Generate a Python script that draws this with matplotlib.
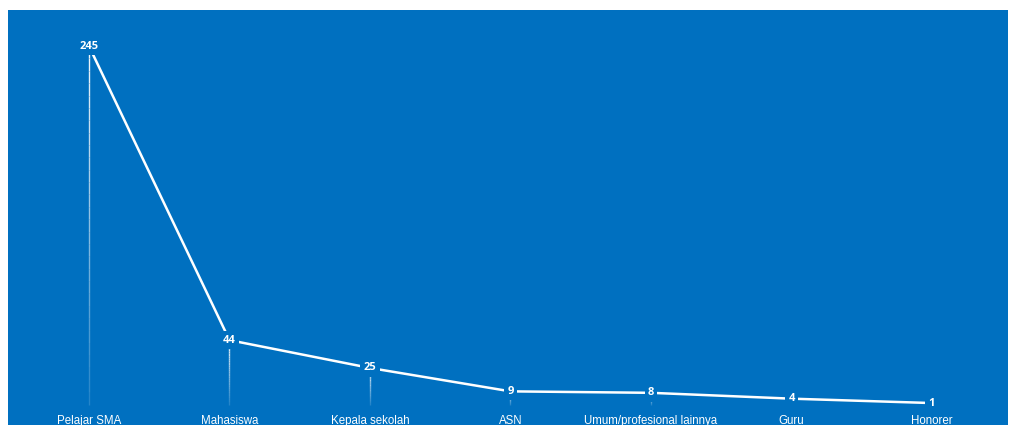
"""Line chart of respondents by category, white line on a blue panel."""

import numpy as np
import matplotlib.pyplot as plt
from matplotlib.collections import LineCollection

categories = ['Pelajar SMA', 'Mahasiswa', 'Kepala sekolah', 'ASN',
              'Umum/profesional lainnya', 'Guru', 'Honorer']
counts = [245, 44, 25, 9, 8, 4, 1]

blue = '#0070C0'

fig = plt.figure(figsize=(10.11, 4.25), dpi=100, facecolor='white')
ax = fig.add_axes([8 / 1011, 0, 1000 / 1011, 415 / 425])
ax.set_facecolor(blue)
for s in ax.spines.values():
    s.set_visible(False)
ax.set_xticks([])
ax.set_yticks([])

x = np.arange(len(categories))
ax.set_xlim(-0.5765, 6.541)
ax.set_ylim(-14.0, 269.7)

# Drop lines, fading towards the bottom
for xi, v in zip(x, counts):
    ys = np.linspace(v, 0, 30)
    segs = [[(xi, ys[i]), (xi, ys[i + 1])] for i in range(len(ys) - 1)]
    alphas = np.linspace(0.95, 0.15, len(segs))
    cols = [(1, 1, 1, a) for a in alphas]
    ax.add_collection(LineCollection(segs, colors=cols, linewidths=1.0, zorder=2))

# Main line
ax.plot(x, counts, color='white', lw=1.8, zorder=3, solid_capstyle='butt')

# Data labels sitting on the points
for xi, v in zip(x, counts):
    ax.text(xi, v, str(v), ha='center', va='center', color='white',
            fontsize=8, fontweight='bold', family='Open Sans', zorder=5,
            bbox=dict(boxstyle='square,pad=0.3', fc=blue, ec='none'))

# Category labels along the bottom
for xi, c in zip(x, categories):
    ax.text(xi, 4 / 415, c, transform=ax.get_xaxis_transform(), ha='center',
            va='center', color='white', fontsize=8.3, family='Liberation Sans',
            clip_on=False)

plt.savefig('out.png', dpi=100, facecolor=fig.get_facecolor())
